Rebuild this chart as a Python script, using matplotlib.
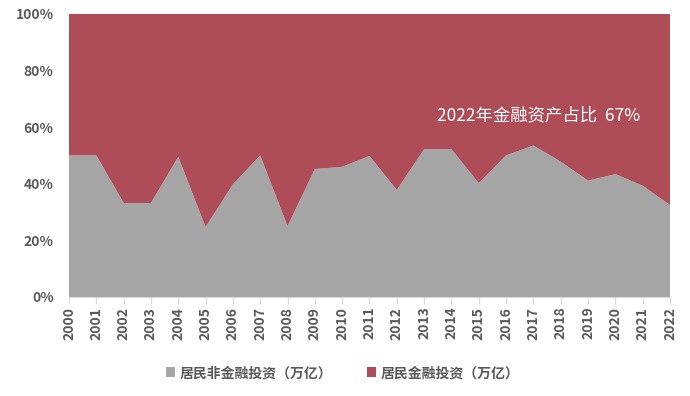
import matplotlib.pyplot as plt
import numpy as np

plt.rcParams['font.family'] = ['Noto Sans CJK SC', 'DejaVu Sans']

years = [str(y) for y in range(2000, 2023)]
# 居民非金融投资占比（%）
non_fin = [50.0, 50.0, 33.2, 33.2, 49.5, 24.7, 39.8, 50.0, 25.0, 45.2, 46.0,
           49.8, 37.8, 52.2, 52.2, 40.2, 50.0, 53.5, 47.8, 41.1, 43.4, 39.3, 32.5]
# 居民金融投资占比（%）
fin = [50.0, 50.0, 66.8, 66.8, 50.5, 75.3, 60.2, 50.0, 75.0, 54.8, 54.0,
       50.2, 62.2, 47.8, 47.8, 59.8, 50.0, 46.5, 52.2, 58.9, 56.6, 60.7, 67.5]
labels = ['居民非金融投资（万亿）', '居民金融投资（万亿）']
colors = ['#A5A5A5', '#AE4C58']

fig = plt.figure(figsize=(6.9, 3.96), dpi=100)
ax = fig.add_axes([0.1, 0.25, 0.871, 0.715])

x = np.arange(len(years))
ax.stackplot(x, non_fin, fin, labels=labels, colors=colors, linewidth=0)

ax.set_xlim(0, len(years) - 1)
ax.set_ylim(0, 100)
ax.set_xticks(x)
ax.set_xticklabels(years, rotation=90, fontsize=10, color='#595959', fontweight='bold')
ax.set_yticks(range(0, 101, 20))
ax.set_yticklabels([str(v) + '%' for v in range(0, 101, 20)], fontsize=10,
                   color='#595959', fontweight='bold')
ax.tick_params(axis='y', length=0, pad=11)
ax.tick_params(axis='x', length=5, color='#D9D9D9', pad=2)
for s in ['top', 'right', 'left']:
    ax.spines[s].set_visible(False)
ax.spines['bottom'].set_color('#D9D9D9')

ax.text(17.2, 64.3, '2022年金融资产占比  67%', color='white', fontsize=12.5,
        ha='center', va='center', fontweight='light')

ax.legend(loc='upper center', bbox_to_anchor=(0.455, -0.2), ncol=2, frameon=False,
          fontsize=10, handlelength=0.7, handleheight=0.7, handletextpad=0.3,
          columnspacing=2.5, labelcolor='#595959', prop={'weight': 'bold'})

fig.savefig('out.png', dpi=100)
